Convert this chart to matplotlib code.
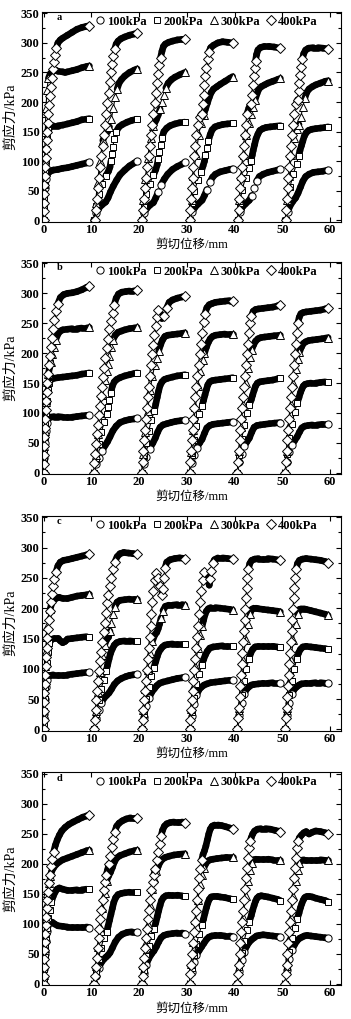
import matplotlib
matplotlib.use('Agg')
import matplotlib.pyplot as plt
from matplotlib.collections import LineCollection
from matplotlib.lines import Line2D
from matplotlib.ticker import MultipleLocator
import numpy as np

plt.rcParams['font.family'] = ['Liberation Serif', 'Noto Sans CJK SC', 'DejaVu Sans']
plt.rcParams['font.weight'] = 'bold'

# shear stress (kPa) vs cumulative shear displacement (mm), six shear cycles per panel
A100 = [
    ([0, 0.15, 0.3, 0.5, 0.8, 1.2, 2, 3, 4, 5, 6, 7, 8, 9, 9.6], [0, 30, 55, 70, 78, 82, 85, 86, 88, 89, 91, 93, 95, 97, 98]),
    ([10.6, 11.0, 11.5, 12.2, 13.0, 13.5, 14.0, 14.6, 15.3, 16.0, 17, 18, 19, 19.6], [0, 12, 20, 26, 31, 38, 48, 58, 68, 77, 85, 92, 97, 100]),
    ([20.6, 21.0, 21.6, 22.3, 23.0, 23.5, 24.0, 24.6, 25.3, 26, 27, 28, 29, 29.6], [0, 12, 20, 26, 30, 38, 48, 60, 70, 78, 86, 91, 95, 98]),
    ([30.7, 31.1, 31.7, 32.4, 33.2, 33.7, 34.2, 34.8, 35.4, 36, 37, 38, 39, 39.6], [0, 14, 22, 28, 34, 42, 52, 64, 73, 78, 82, 84, 86, 87]),
    ([40.7, 41.1, 41.6, 42.3, 43.1, 43.6, 44.1, 44.6, 45.2, 46, 47, 48, 49, 49.6], [0, 14, 22, 28, 34, 42, 54, 66, 74, 78, 81, 83, 85, 86]),
    ([50.7, 51.1, 51.6, 52.2, 52.8, 53.3, 53.8, 54.3, 54.9, 55.6, 56.5, 57.5, 58.5, 59.6], [0, 14, 24, 32, 38, 46, 56, 66, 74, 78, 81, 82, 83, 85]),
]
A200 = [
    ([0, 0.05, 0.1, 0.2, 0.3, 0.45, 0.6, 0.8, 1.0, 1.4, 2, 3, 4, 5, 6, 7, 8, 9, 9.6], [0, 20, 40, 60, 80, 100, 120, 140, 152, 158, 160, 160, 161, 163, 165, 167, 170, 171, 172]),
    ([10.6, 11.0, 11.5, 12.2, 13.0, 13.6, 13.9, 14.1, 14.3, 14.5, 14.8, 15.2, 15.8, 16.5, 17.5, 18.5, 19.6], [0, 25, 45, 62, 75, 83, 90, 100, 112, 124, 138, 150, 158, 162, 166, 169, 171]),
    ([20.6, 21.0, 21.5, 22.2, 23.0, 23.5, 23.8, 24.0, 24.2, 24.5, 24.8, 25.2, 25.8, 26.5, 27.5, 28.5, 29.6], [0, 25, 45, 62, 76, 86, 94, 104, 116, 128, 140, 150, 156, 160, 163, 165, 166]),
    ([30.7, 31.1, 31.6, 32.3, 33.0, 33.4, 33.7, 33.9, 34.2, 34.5, 34.9, 35.3, 35.9, 36.6, 37.5, 38.5, 39.6], [0, 30, 50, 68, 82, 92, 100, 110, 122, 134, 145, 153, 158, 160, 162, 163, 164]),
    ([40.7, 41.1, 41.6, 42.3, 43.0, 43.4, 43.7, 43.9, 44.2, 44.5, 44.9, 45.3, 45.9, 46.6, 47.5, 48.5, 49.6], [0, 30, 52, 72, 88, 100, 110, 118, 128, 138, 146, 152, 155, 157, 158, 159, 160]),
    ([50.7, 51.1, 51.6, 52.3, 53.0, 53.4, 53.7, 54.0, 54.3, 54.6, 55.0, 55.5, 56.2, 57, 58, 59, 59.6], [0, 32, 56, 78, 96, 108, 118, 126, 134, 142, 148, 152, 154, 155, 156, 157, 158]),
]
A300 = [
    ([0, 0.1, 0.2, 0.35, 0.5, 0.7, 1.0, 1.4, 2, 2.5, 3, 4, 4.5, 5, 6, 7, 8, 9, 9.6], [0, 50, 100, 150, 190, 220, 240, 248, 252, 254, 252, 251, 250, 251, 253, 255, 258, 260, 261]),
    ([10.6, 10.9, 11.3, 11.8, 12.4, 12.9, 13.4, 13.8, 14.2, 14.6, 15.0, 15.4, 15.8, 16.3, 17, 18, 19, 19.6], [0, 30, 65, 100, 135, 145, 150, 158, 172, 190, 208, 222, 232, 238, 244, 250, 254, 256]),
    ([20.6, 20.9, 21.3, 21.8, 22.4, 23.0, 23.6, 24.0, 24.4, 24.8, 25.2, 25.6, 26.1, 26.8, 27.5, 28.5, 29.6], [0, 35, 70, 105, 140, 160, 170, 178, 188, 200, 212, 224, 232, 238, 242, 246, 250]),
    ([30.7, 31.0, 31.4, 31.9, 32.5, 33.0, 33.5, 33.9, 34.3, 34.7, 35.1, 35.6, 36.3, 37, 38, 39, 39.6], [0, 35, 75, 110, 145, 165, 178, 188, 198, 208, 216, 222, 226, 230, 235, 240, 243]),
    ([40.7, 41.0, 41.4, 41.9, 42.5, 43.0, 43.5, 43.9, 44.3, 44.7, 45.1, 45.6, 46.3, 47, 48, 49, 49.6], [0, 35, 75, 110, 145, 165, 180, 192, 204, 214, 222, 226, 229, 232, 235, 238, 240]),
    ([50.7, 51.0, 51.4, 51.9, 52.5, 53.0, 53.5, 53.9, 54.3, 54.7, 55.1, 55.6, 56.3, 57, 58, 59, 59.6], [0, 35, 75, 110, 140, 155, 162, 175, 192, 206, 216, 222, 226, 229, 232, 235, 236]),
]
A400 = [
    ([0, 0.03, 0.07, 0.12, 0.18, 0.25, 0.33, 0.42, 0.52, 0.63, 0.75, 0.88, 1.02, 1.17, 1.33, 1.5, 1.7, 1.92, 2.15, 2.4, 2.7, 3.0, 3.5, 4, 5, 6, 7, 8, 9, 9.6],
     [0, 15, 30, 45, 60, 75, 90, 105, 120, 135, 150, 165, 180, 195, 210, 225, 240, 255, 268, 280, 292, 300, 305, 308, 313, 318, 323, 326, 328, 329]),
    ([10.7, 10.9, 11.1, 11.35, 11.6, 11.85, 12.1, 12.35, 12.6, 12.85, 13.1, 13.35, 13.6, 13.85, 14.1, 14.35, 14.6, 14.9, 15.2, 15.6, 16.2, 17, 18, 19, 19.6],
     [0, 18, 36, 54, 72, 90, 108, 126, 144, 162, 180, 198, 216, 234, 250, 265, 278, 290, 298, 303, 307, 310, 313, 315, 316]),
    ([20.6, 20.8, 21.0, 21.25, 21.5, 21.75, 22.0, 22.25, 22.5, 22.75, 23.0, 23.25, 23.5, 23.75, 24.0, 24.25, 24.5, 24.8, 25.1, 25.5, 26.2, 27, 28, 29, 29.6],
     [0, 18, 36, 54, 72, 90, 108, 126, 144, 162, 180, 198, 216, 232, 248, 262, 275, 286, 294, 298, 301, 303, 305, 306, 306]),
    ([30.6, 30.75, 30.9, 31.05, 31.2, 31.4, 31.6, 31.8, 32.0, 32.3, 32.7, 33.1, 33.3, 33.5, 33.7, 33.9, 34.1, 34.35, 34.6, 35.0, 35.6, 36.5, 37.5, 38.5, 39.6],
     [0, 18, 36, 54, 72, 90, 108, 126, 144, 162, 174, 180, 196, 212, 228, 244, 258, 272, 284, 292, 296, 300, 302, 301, 300]),
    ([40.7, 40.85, 41.0, 41.15, 41.3, 41.5, 41.7, 41.9, 42.1, 42.35, 42.6, 43.0, 43.4, 43.6, 43.8, 44.0, 44.2, 44.4, 44.6, 44.9, 45.4, 46.2, 47.2, 48.3, 49.6],
     [0, 18, 36, 54, 72, 90, 108, 126, 144, 162, 180, 190, 196, 212, 228, 244, 258, 270, 280, 288, 292, 294, 294, 293, 291]),
    ([50.7, 50.85, 51.0, 51.15, 51.3, 51.45, 51.6, 51.8, 52.0, 52.2, 52.5, 52.9, 53.2, 53.4, 53.6, 53.8, 54.0, 54.2, 54.5, 54.9, 55.5, 56.5, 57.5, 58.5, 59.6],
     [0, 18, 36, 54, 72, 90, 108, 126, 144, 162, 180, 196, 204, 218, 232, 246, 260, 272, 282, 288, 291, 292, 292, 291, 290]),
]

B100 = [
    ([0, 0.1, 0.25, 0.45, 0.7, 1.0, 1.5, 2.2, 3, 4, 5, 6, 7, 8, 9, 9.6], [0, 25, 50, 70, 84, 91, 93, 94, 94, 93, 93, 93, 94, 95, 96, 96]),
    ([10.6, 11.0, 11.5, 12.2, 12.9, 13.4, 13.9, 14.5, 15.2, 16, 17, 18, 19, 19.6], [0, 14, 24, 36, 46, 52, 60, 70, 78, 84, 87, 89, 90, 91]),
    ([20.6, 21.0, 21.5, 22.2, 22.9, 23.4, 23.9, 24.4, 25, 25.8, 26.7, 27.7, 28.7, 29.6], [0, 14, 26, 40, 50, 58, 68, 76, 80, 82, 84, 86, 87, 88]),
    ([30.6, 31.0, 31.5, 32.1, 32.7, 33.2, 33.7, 34.2, 34.8, 35.5, 36.5, 37.5, 38.5, 39.6], [0, 16, 30, 42, 50, 56, 66, 75, 79, 81, 82, 83, 84, 85]),
    ([40.6, 41.0, 41.5, 42.0, 42.6, 43.1, 43.6, 44.1, 44.7, 45.4, 46.3, 47.3, 48.4, 49.6], [0, 18, 32, 44, 52, 58, 68, 76, 79, 80, 81, 82, 83, 84]),
    ([50.6, 51.0, 51.5, 52.0, 52.6, 53.1, 53.6, 54.1, 54.7, 55.4, 56.3, 57.3, 58.4, 59.6], [0, 18, 34, 46, 54, 60, 68, 75, 78, 79, 80, 80, 81, 81]),
]
B200 = [
    ([0, 0.05, 0.12, 0.2, 0.3, 0.45, 0.65, 0.9, 1.2, 1.6, 2.2, 3, 4, 5, 6, 7, 8, 9, 9.6], [0, 20, 40, 60, 80, 100, 120, 138, 150, 157, 158, 159, 160, 161, 162, 163, 165, 166, 167]),
    ([10.6, 11.0, 11.5, 12.1, 12.7, 13.2, 13.5, 13.8, 14.1, 14.4, 14.8, 15.3, 16, 17, 18, 19, 19.6], [0, 25, 48, 68, 85, 98, 110, 122, 134, 145, 152, 156, 159, 162, 164, 166, 167]),
    ([20.6, 21.0, 21.5, 22.0, 22.6, 23.2, 23.5, 23.8, 24.1, 24.4, 24.8, 25.3, 26, 27, 28, 29, 29.6], [0, 28, 50, 70, 88, 104, 115, 126, 137, 146, 152, 156, 158, 160, 162, 163, 164]),
    ([30.6, 31.0, 31.5, 32.0, 32.6, 33.2, 33.5, 33.8, 34.1, 34.4, 34.8, 35.3, 36, 37, 38, 39, 39.6], [0, 30, 55, 78, 98, 112, 121, 130, 139, 147, 152, 154, 155, 156, 157, 158, 159]),
    ([40.6, 41.0, 41.5, 42.0, 42.6, 43.1, 43.5, 43.8, 44.1, 44.4, 44.8, 45.3, 46, 47, 48, 49, 49.6], [0, 30, 56, 80, 100, 114, 122, 130, 138, 145, 150, 152, 153, 154, 155, 157, 158]),
    ([50.6, 51.0, 51.5, 52.0, 52.6, 53.1, 53.5, 53.8, 54.1, 54.4, 54.8, 55.3, 56, 57, 58, 59, 59.6], [0, 32, 58, 82, 102, 116, 126, 134, 140, 145, 148, 149, 150, 150, 151, 152, 152]),
]
B300 = [
    ([0, 0.05, 0.12, 0.2, 0.3, 0.45, 0.6, 0.8, 1.0, 1.25, 1.5, 1.8, 2.1, 2.5, 3.0, 3.5, 4, 5, 6, 7, 8, 9, 9.6], [0, 20, 45, 70, 95, 118, 138, 152, 165, 176, 186, 198, 210, 222, 232, 237, 239, 240, 241, 241, 242, 242, 243]),
    ([10.6, 10.9, 11.3, 11.8, 12.3, 12.8, 13.2, 13.5, 13.8, 14.1, 14.5, 15.0, 15.6, 16.3, 17, 18, 19, 19.6], [0, 30, 65, 100, 130, 155, 170, 182, 196, 210, 222, 230, 235, 237, 239, 241, 242, 243]),
    ([20.6, 20.9, 21.3, 21.8, 22.3, 22.8, 23.3, 23.7, 24.1, 24.5, 24.9, 25.4, 26, 27, 28, 29, 29.6], [0, 32, 68, 104, 138, 162, 180, 192, 204, 214, 222, 228, 230, 231, 232, 233, 234]),
    ([30.6, 30.9, 31.3, 31.8, 32.3, 32.8, 33.3, 33.7, 34.1, 34.5, 34.9, 35.4, 36, 37, 38, 39, 39.6], [0, 34, 72, 110, 145, 170, 188, 200, 210, 218, 224, 228, 230, 231, 232, 232, 232]),
    ([40.6, 40.9, 41.3, 41.8, 42.3, 42.8, 43.2, 43.6, 44.0, 44.4, 44.9, 45.5, 46.3, 47.3, 48.3, 49.6], [0, 36, 76, 115, 150, 176, 194, 206, 214, 220, 224, 226, 227, 228, 229, 230]),
    ([50.6, 50.9, 51.3, 51.8, 52.3, 52.8, 53.2, 53.6, 54.0, 54.4, 54.9, 55.5, 56.3, 57.3, 58.3, 59.6], [0, 36, 76, 115, 150, 174, 190, 202, 210, 216, 219, 221, 222, 223, 224, 226]),
]
B400 = [
    ([0, 0.03, 0.07, 0.12, 0.18, 0.25, 0.33, 0.42, 0.52, 0.64, 0.77, 0.92, 1.08, 1.25, 1.45, 1.68, 1.95, 2.25, 2.6, 3.0, 3.5, 4.2, 5, 6, 7, 8, 9, 9.6],
     [0, 15, 30, 45, 60, 75, 90, 105, 120, 135, 150, 165, 180, 195, 210, 225, 240, 255, 270, 283, 293, 298, 300, 301, 303, 306, 310, 312]),
    ([10.5, 10.65, 10.8, 10.95, 11.15, 11.35, 11.55, 11.75, 11.95, 12.2, 12.45, 12.7, 12.95, 13.2, 13.5, 13.8, 14.1, 14.45, 14.8, 15.2, 15.7, 16.4, 17.2, 18.0, 18.8, 19.6],
     [0, 16, 32, 48, 64, 80, 96, 112, 128, 144, 160, 176, 192, 208, 224, 240, 254, 268, 281, 292, 299, 302, 303, 304, 304, 305]),
    ([20.6, 20.75, 20.9, 21.05, 21.2, 21.4, 21.6, 21.8, 22.0, 22.2, 22.45, 22.7, 22.95, 23.2, 23.45, 23.7, 24.0, 24.4, 24.8, 25.3, 25.8, 26.3, 27, 28, 29, 29.6],
     [0, 18, 36, 54, 72, 90, 108, 126, 144, 162, 180, 198, 214, 230, 246, 260, 272, 266, 258, 262, 276, 285, 289, 292, 294, 295]),
    ([30.6, 30.75, 30.9, 31.05, 31.2, 31.4, 31.6, 31.8, 32.0, 32.2, 32.45, 32.7, 32.95, 33.2, 33.5, 33.8, 34.2, 34.7, 35.3, 36, 37, 38, 39, 39.6],
     [0, 18, 36, 54, 72, 90, 108, 126, 144, 162, 180, 198, 216, 234, 252, 266, 276, 281, 283, 285, 286, 287, 288, 288]),
    ([40.6, 40.75, 40.9, 41.05, 41.2, 41.4, 41.6, 41.8, 42.0, 42.2, 42.4, 42.6, 42.8, 43.0, 43.25, 43.55, 43.9, 44.4, 45, 46, 47, 48, 49, 49.6],
     [0, 18, 36, 54, 72, 90, 108, 126, 144, 162, 180, 198, 216, 234, 250, 262, 270, 273, 274, 275, 276, 277, 279, 281]),
    ([50.6, 50.75, 50.9, 51.05, 51.2, 51.4, 51.6, 51.8, 52.0, 52.2, 52.4, 52.6, 52.8, 53.0, 53.25, 53.55, 53.9, 54.4, 55, 56, 57, 58, 59, 59.6],
     [0, 18, 36, 54, 72, 90, 108, 126, 144, 162, 180, 198, 216, 234, 250, 260, 266, 268, 269, 270, 271, 272, 274, 275]),
]

C100 = [
    ([0, 0.1, 0.25, 0.45, 0.7, 1.0, 1.5, 2, 3, 4, 5, 6, 7, 8, 9, 9.6], [0, 25, 50, 70, 82, 87, 89, 90, 90, 90, 90, 91, 92, 93, 94, 94]),
    ([10.6, 11.0, 11.5, 12.1, 12.7, 13.2, 13.7, 14.2, 14.8, 15.5, 16.3, 17.2, 18.0, 18.8, 19.6], [0, 18, 32, 44, 52, 56, 60, 66, 74, 80, 84, 87, 89, 90, 91]),
    ([20.6, 21.0, 21.5, 22.1, 22.7, 23.2, 23.7, 24.3, 25, 26, 27, 28, 29, 29.6], [0, 20, 38, 52, 62, 67, 72, 76, 78, 80, 82, 84, 85, 86]),
    ([30.6, 31.0, 31.5, 32.0, 32.6, 33.1, 33.6, 34.2, 35, 36, 37, 38, 39, 39.6], [0, 22, 42, 56, 66, 70, 73, 75, 77, 78, 79, 80, 81, 81]),
    ([40.6, 41.0, 41.5, 42.0, 42.5, 43.0, 43.5, 44, 45, 46, 47, 48, 49, 49.6], [0, 24, 44, 58, 66, 70, 73, 74, 75, 76, 76, 77, 77, 77]),
    ([50.6, 51.0, 51.5, 52.0, 52.5, 53.0, 53.5, 54, 55, 56, 57, 58, 59, 59.6], [0, 24, 44, 58, 66, 70, 73, 75, 76, 76, 77, 77, 76, 76]),
]
C200 = [
    ([0, 0.05, 0.12, 0.2, 0.3, 0.45, 0.65, 0.9, 1.2, 1.6, 2.2, 3, 3.5, 4, 4.5, 5, 6, 7, 8, 9, 9.6], [0, 10, 30, 50, 70, 90, 110, 128, 142, 148, 150, 150, 146, 143, 145, 149, 150, 151, 152, 153, 153]),
    ([10.6, 11.0, 11.5, 12.0, 12.6, 13.1, 13.4, 13.7, 14.0, 14.4, 14.8, 15.3, 16, 17, 18, 19, 19.6], [0, 25, 48, 66, 82, 96, 106, 116, 125, 133, 139, 143, 145, 146, 146, 145, 145]),
    ([20.6, 21.0, 21.5, 22.0, 22.6, 23.1, 23.5, 23.8, 24.1, 24.5, 24.9, 25.4, 26, 27, 28, 29, 29.6], [0, 26, 50, 70, 88, 102, 112, 120, 127, 132, 136, 139, 140, 141, 141, 141, 141]),
    ([30.6, 31.0, 31.5, 32.0, 32.6, 33.1, 33.5, 33.9, 34.3, 34.8, 35.5, 36.5, 37.5, 38.5, 39.6], [0, 28, 52, 74, 92, 106, 115, 123, 129, 134, 136, 137, 138, 138, 138]),
    ([40.6, 41.0, 41.5, 42.0, 42.5, 43.0, 43.4, 43.8, 44.3, 45, 46, 47, 48, 49, 49.6], [0, 30, 56, 80, 100, 116, 126, 132, 136, 137, 137, 137, 137, 136, 136]),
    ([50.6, 51.0, 51.5, 52.0, 52.5, 53.0, 53.4, 53.8, 54.3, 55, 56, 57, 58, 59, 59.6], [0, 30, 56, 80, 100, 116, 126, 132, 136, 137, 136, 135, 134, 133, 132]),
]
C300 = [
    ([0, 0.05, 0.12, 0.2, 0.3, 0.45, 0.6, 0.8, 1.05, 1.35, 1.7, 2.1, 2.6, 3.2, 4, 5, 6, 7, 8, 9, 9.6], [0, 25, 50, 78, 105, 130, 152, 170, 185, 198, 208, 214, 216, 218, 216, 216, 218, 220, 221, 222, 223]),
    ([10.6, 10.9, 11.3, 11.8, 12.3, 12.8, 13.2, 13.6, 13.9, 14.2, 14.5, 14.9, 15.4, 16, 17, 18, 19, 19.6], [0, 30, 62, 95, 122, 140, 148, 152, 162, 176, 190, 202, 210, 213, 214, 215, 215, 215]),
    ([20.6, 20.9, 21.3, 21.8, 22.3, 22.8, 23.3, 23.7, 24.0, 24.3, 24.6, 25.0, 25.5, 26.2, 27, 28, 29, 29.6], [0, 32, 66, 98, 126, 146, 156, 160, 166, 174, 184, 196, 203, 205, 205, 206, 206, 205]),
    ([30.6, 30.9, 31.3, 31.8, 32.3, 32.8, 33.2, 33.5, 33.8, 34.1, 34.5, 35, 36, 37, 38, 39, 39.6], [0, 34, 70, 104, 134, 156, 170, 180, 189, 195, 199, 201, 201, 200, 199, 198, 197]),
    ([40.6, 40.9, 41.3, 41.8, 42.3, 42.8, 43.2, 43.6, 44.0, 44.5, 45, 46, 47, 48, 49, 49.6], [0, 36, 76, 114, 148, 174, 190, 198, 200, 200, 199, 198, 197, 196, 195, 194]),
    ([50.6, 50.9, 51.3, 51.8, 52.3, 52.8, 53.2, 53.6, 54.0, 54.5, 55, 56, 57, 58, 59, 59.6], [0, 36, 76, 114, 148, 174, 190, 198, 199, 199, 198, 196, 194, 192, 190, 188]),
]
C400 = [
    ([0, 0.03, 0.07, 0.12, 0.18, 0.25, 0.33, 0.42, 0.52, 0.64, 0.77, 0.92, 1.08, 1.26, 1.46, 1.7, 1.95, 2.25, 2.6, 3.0, 3.5, 4.2, 5, 6, 7, 8, 9, 9.6],
     [0, 15, 30, 45, 60, 75, 90, 105, 120, 135, 150, 165, 180, 195, 210, 223, 236, 248, 260, 270, 276, 279, 280, 282, 284, 286, 288, 289]),
    ([10.6, 10.75, 10.9, 11.05, 11.25, 11.45, 11.65, 11.85, 12.05, 12.3, 12.55, 12.8, 13.05, 13.3, 13.55, 13.85, 14.15, 14.5, 14.9, 15.4, 16, 16.8, 17.8, 18.8, 19.6],
     [0, 16, 32, 48, 64, 80, 96, 112, 128, 144, 160, 176, 192, 208, 222, 236, 250, 264, 276, 285, 290, 292, 291, 290, 289]),
    ([20.6, 20.75, 20.9, 21.05, 21.2, 21.4, 21.6, 21.8, 22.0, 22.2, 22.4, 22.6, 22.8, 23.0, 23.3, 23.6, 24.0, 24.4, 24.8, 25.0, 25.2, 25.4, 25.8, 26.5, 27.5, 28.5, 29.6],
     [0, 16, 32, 48, 64, 80, 98, 116, 134, 152, 170, 190, 210, 228, 246, 258, 250, 236, 222, 232, 250, 266, 276, 280, 282, 283, 282]),
    ([30.6, 30.75, 30.9, 31.05, 31.2, 31.4, 31.6, 31.8, 32.0, 32.2, 32.4, 32.6, 32.8, 33.0, 33.3, 33.6, 34.0, 34.4, 34.7, 34.9, 35.1, 35.4, 35.8, 36.5, 37.5, 38.5, 39.6],
     [0, 16, 32, 48, 64, 80, 98, 116, 134, 152, 170, 190, 210, 228, 246, 260, 256, 246, 238, 248, 262, 274, 280, 283, 283, 282, 281]),
    ([40.6, 40.75, 40.9, 41.05, 41.2, 41.35, 41.5, 41.65, 41.8, 41.95, 42.1, 42.25, 42.4, 42.55, 42.7, 42.9, 43.2, 43.6, 44.2, 45, 46, 47, 48, 49, 49.6],
     [0, 18, 36, 54, 72, 90, 108, 126, 144, 162, 180, 198, 216, 234, 250, 264, 274, 279, 281, 282, 282, 282, 281, 280, 280]),
    ([50.6, 50.75, 50.9, 51.05, 51.2, 51.35, 51.5, 51.65, 51.8, 51.95, 52.1, 52.25, 52.4, 52.55, 52.7, 52.9, 53.2, 53.6, 54.2, 55, 56, 57, 58, 59, 59.6],
     [0, 18, 36, 54, 72, 90, 108, 126, 144, 162, 180, 198, 216, 234, 250, 264, 274, 279, 281, 282, 281, 280, 279, 277, 275]),
]

D100 = [
    ([0, 0.1, 0.25, 0.45, 0.7, 1.0, 1.4, 1.8, 2.3, 3, 4, 5, 6, 7, 8, 9, 9.6], [0, 25, 50, 72, 88, 98, 103, 103, 100, 97, 96, 95, 95, 95, 95, 95, 94]),
    ([10.6, 11.0, 11.5, 12.1, 12.7, 13.1, 13.5, 13.9, 14.4, 15.0, 15.7, 16.5, 17.5, 18.5, 19.6], [0, 14, 26, 36, 42, 45, 48, 52, 60, 70, 78, 83, 86, 87, 87]),
    ([20.6, 21.0, 21.5, 22.0, 22.6, 23.1, 23.6, 24.1, 24.6, 25.2, 26, 27, 28, 29, 29.6], [0, 18, 32, 42, 50, 55, 62, 70, 77, 81, 83, 84, 85, 85, 84]),
    ([30.6, 31.0, 31.5, 32.0, 32.6, 33.1, 33.6, 34.1, 34.6, 35.2, 36, 37, 38, 39, 39.6], [0, 20, 36, 48, 56, 62, 68, 74, 78, 80, 81, 81, 80, 80, 79]),
    ([40.6, 41.0, 41.5, 42.0, 42.6, 43.1, 43.6, 44.1, 44.6, 45.2, 46, 47, 48, 49, 49.6], [0, 22, 40, 54, 64, 70, 74, 77, 80, 81, 82, 81, 80, 79, 78]),
    ([50.6, 51.0, 51.5, 52.0, 52.6, 53.1, 53.6, 54.1, 54.6, 55.2, 56, 57, 58, 59, 59.6], [0, 24, 42, 56, 66, 72, 76, 78, 80, 81, 80, 79, 78, 77, 76]),
]
D200 = [
    ([0, 0.05, 0.12, 0.22, 0.35, 0.5, 0.7, 0.95, 1.25, 1.6, 2.0, 2.4, 2.8, 3.3, 4, 5, 6, 7, 8, 9, 9.6], [0, 8, 25, 45, 62, 78, 94, 110, 124, 136, 146, 153, 158, 160, 158, 156, 156, 157, 157, 158, 158]),
    ([10.6, 11.0, 11.5, 12.0, 12.6, 13.2, 13.5, 13.8, 14.1, 14.4, 14.7, 15.1, 15.6, 16.3, 17, 18, 19, 19.6], [0, 22, 42, 60, 76, 87, 96, 106, 116, 126, 136, 144, 149, 151, 152, 153, 153, 153]),
    ([20.6, 21.0, 21.5, 22.0, 22.6, 23.1, 23.5, 23.8, 24.1, 24.4, 24.7, 25.1, 25.6, 26.3, 27, 28, 29, 29.6], [0, 24, 46, 64, 80, 92, 102, 112, 122, 131, 139, 144, 147, 148, 148, 148, 147, 147]),
    ([30.6, 31.0, 31.5, 32.0, 32.6, 33.1, 33.5, 33.8, 34.1, 34.4, 34.7, 35.1, 35.6, 36.3, 37, 38, 39, 39.6], [0, 26, 48, 66, 84, 98, 108, 118, 127, 135, 141, 145, 146, 146, 145, 144, 142, 141]),
    ([40.6, 41.0, 41.5, 42.0, 42.6, 43.1, 43.5, 43.8, 44.1, 44.4, 44.7, 45.1, 45.6, 46.3, 47, 48, 49, 49.6], [0, 28, 52, 72, 90, 104, 114, 123, 131, 138, 143, 146, 147, 146, 145, 143, 141, 139]),
    ([50.6, 51.0, 51.5, 52.0, 52.6, 53.1, 53.5, 53.8, 54.1, 54.4, 54.7, 55.1, 55.6, 56.3, 57, 58, 59, 59.6], [0, 28, 54, 76, 94, 108, 118, 127, 134, 140, 144, 146, 146, 145, 143, 141, 139, 137]),
]
D300 = [
    ([0, 0.05, 0.12, 0.2, 0.3, 0.45, 0.6, 0.8, 1.05, 1.35, 1.7, 2.1, 2.6, 3.2, 4, 5, 6, 7, 8, 9, 9.6], [0, 15, 35, 60, 85, 110, 132, 152, 168, 180, 188, 194, 199, 203, 207, 210, 213, 216, 219, 222, 223]),
    ([10.6, 10.9, 11.3, 11.8, 12.3, 12.8, 13.2, 13.6, 14.0, 14.4, 14.8, 15.3, 16, 17, 18, 19, 19.6], [0, 30, 62, 95, 126, 152, 172, 180, 186, 194, 203, 210, 214, 217, 220, 222, 223]),
    ([20.6, 20.9, 21.3, 21.8, 22.3, 22.8, 23.2, 23.6, 24.0, 24.4, 24.9, 25.5, 26.3, 27.3, 28.3, 29.6], [0, 32, 66, 100, 132, 158, 176, 188, 196, 203, 208, 211, 213, 215, 216, 217]),
    ([30.6, 30.9, 31.3, 31.8, 32.3, 32.8, 33.2, 33.6, 34.0, 34.4, 34.9, 35.5, 36.3, 37.3, 38.3, 39.6], [0, 34, 70, 106, 140, 166, 182, 194, 201, 205, 207, 208, 209, 210, 211, 211]),
    ([40.6, 40.9, 41.3, 41.8, 42.3, 42.8, 43.2, 43.6, 44.0, 44.5, 45, 46, 47, 48, 49, 49.6], [0, 36, 74, 112, 146, 172, 190, 202, 207, 208, 208, 208, 208, 207, 207, 207]),
    ([50.6, 50.9, 51.3, 51.8, 52.3, 52.8, 53.2, 53.6, 54.0, 54.5, 55, 56, 57, 58, 59, 59.6], [0, 36, 74, 112, 146, 172, 190, 202, 206, 207, 207, 207, 207, 207, 206, 206]),
]
D400 = [
    ([0, 0.03, 0.07, 0.12, 0.18, 0.25, 0.33, 0.42, 0.52, 0.64, 0.78, 0.94, 1.12, 1.32, 1.55, 1.8, 2.1, 2.45, 2.85, 3.3, 3.8, 4.5, 5.3, 6.2, 7.2, 8.2, 9, 9.6],
     [0, 14, 28, 42, 56, 70, 84, 98, 112, 126, 140, 154, 168, 182, 196, 208, 220, 231, 240, 248, 255, 261, 266, 270, 274, 278, 280, 282]),
    ([10.6, 10.75, 10.9, 11.1, 11.3, 11.5, 11.7, 11.9, 12.1, 12.35, 12.6, 12.85, 13.1, 13.4, 13.7, 14.0, 14.3, 14.6, 14.9, 15.3, 15.8, 16.5, 17.3, 18.2, 19, 19.6],
     [0, 14, 28, 44, 60, 76, 92, 108, 124, 140, 156, 170, 182, 190, 200, 214, 228, 242, 254, 263, 268, 272, 275, 277, 277, 277]),
    ([20.6, 20.75, 20.9, 21.1, 21.3, 21.5, 21.7, 21.9, 22.1, 22.35, 22.6, 22.85, 23.1, 23.4, 23.7, 24.0, 24.3, 24.6, 24.9, 25.3, 25.8, 26.5, 27.3, 28.2, 29, 29.6],
     [0, 14, 28, 44, 60, 76, 92, 108, 124, 140, 156, 170, 182, 192, 206, 220, 234, 246, 256, 263, 267, 269, 270, 270, 270, 269]),
    ([30.6, 30.75, 30.9, 31.1, 31.3, 31.5, 31.7, 31.9, 32.1, 32.35, 32.6, 32.85, 33.1, 33.4, 33.7, 34.0, 34.3, 34.6, 34.9, 35.3, 35.8, 36.5, 37.3, 38.2, 39, 39.6],
     [0, 16, 32, 50, 68, 86, 104, 122, 140, 158, 176, 192, 206, 216, 222, 230, 240, 250, 258, 263, 265, 265, 264, 262, 260, 258]),
    ([40.6, 40.75, 40.9, 41.05, 41.2, 41.4, 41.6, 41.8, 42.0, 42.2, 42.4, 42.6, 42.8, 43.0, 43.25, 43.5, 43.8, 44.2, 44.8, 45.5, 46.5, 47.5, 48.5, 49.6],
     [0, 16, 32, 50, 68, 86, 104, 122, 140, 158, 176, 194, 210, 226, 238, 244, 250, 255, 258, 259, 259, 258, 256, 254]),
    ([50.6, 50.75, 50.9, 51.05, 51.2, 51.4, 51.6, 51.8, 52.0, 52.2, 52.4, 52.6, 52.8, 53.0, 53.3, 53.6, 54.0, 54.5, 55.0, 55.6, 56.3, 57, 58, 59, 59.6],
     [0, 16, 32, 50, 68, 86, 104, 122, 140, 158, 176, 194, 210, 226, 238, 244, 248, 252, 254, 250, 253, 255, 254, 252, 250]),
]

labels = ['100kPa', '200kPa', '300kPa', '400kPa']
letters = ['a', 'b', 'c', 'd']
panels = [[A100, A200, A300, A400], [B100, B200, B300, B400],
          [C100, C200, C300, C400], [D100, D200, D300, D400]]

marks = ['o', 's', '^', 'D']
msizes = [5.2, 4.6, 5.4, 4.8]
boxes = [[0.1188, 0.7826, 0.8527, 0.2061],
         [0.1188, 0.5349, 0.8527, 0.2083],
         [0.1188, 0.2831, 0.8527, 0.2110],
         [0.1188, 0.0332, 0.8527, 0.2090]]

fig = plt.figure(figsize=(3.51, 10.19), dpi=100)

for box, letter, group in zip(boxes, letters, panels):
    ax = fig.add_axes(box)
    ax.set_xlim(-0.4, 62.3)
    ax.set_ylim(-2, 353)
    for k, curves in enumerate(group):
        for xs, ys in curves:
            pts = np.column_stack([xs, ys])
            pix = ax.transData.transform(pts)
            gap = np.hypot(*np.diff(pix, axis=0).T)
            segs = np.stack([pts[:-1], pts[1:]], axis=1)
            # dense stretches merge into a solid band, sparse ones show single markers
            lws = np.where(gap < 7, 4.8, 0.8)
            ax.add_collection(LineCollection(segs, linewidths=lws, colors='k',
                                             capstyle='round', zorder=2 + k * 0.1))
            far = np.zeros(len(pts), bool)
            far[:-1] |= gap >= 7
            far[1:] |= gap >= 7
            far[-1] = True
            ax.plot(pts[far, 0], pts[far, 1], ls='none', marker=marks[k], ms=msizes[k],
                    mfc='w', mec='k', mew=0.7, zorder=2.05 + k * 0.1)

    ax.xaxis.set_major_locator(MultipleLocator(10))
    ax.yaxis.set_major_locator(MultipleLocator(50))
    ax.yaxis.set_minor_locator(MultipleLocator(25))
    ax.tick_params(which='both', direction='in', top=True, right=True, width=0.8, labelsize=9)
    ax.tick_params(which='major', length=3.5, pad=1.5)
    ax.tick_params(which='minor', length=2)
    for s in ax.spines.values():
        s.set_linewidth(0.8)

    ax.set_ylabel('剪应力/kPa', fontsize=10)
    ax.set_xlabel('剪切位移/mm', fontsize=9)
    ax.yaxis.set_label_coords(-0.082, 0.5)
    ax.xaxis.set_label_coords(0.5, -0.082)

    ax.text(0.05, 0.972, letter, transform=ax.transAxes, fontsize=7.5, va='center', ha='left')
    handles = [Line2D([], [], ls='none', marker=m, ms=s, mfc='w', mec='k', mew=0.7)
               for m, s in zip(marks, msizes)]
    ax.legend(handles, labels, loc='center right', bbox_to_anchor=(0.922, 0.952), ncol=4,
              frameon=False, fontsize=9, handlelength=0.6, handletextpad=0.25,
              columnspacing=0.55, borderaxespad=0, borderpad=0)

fig.savefig('out.png', dpi=100)
